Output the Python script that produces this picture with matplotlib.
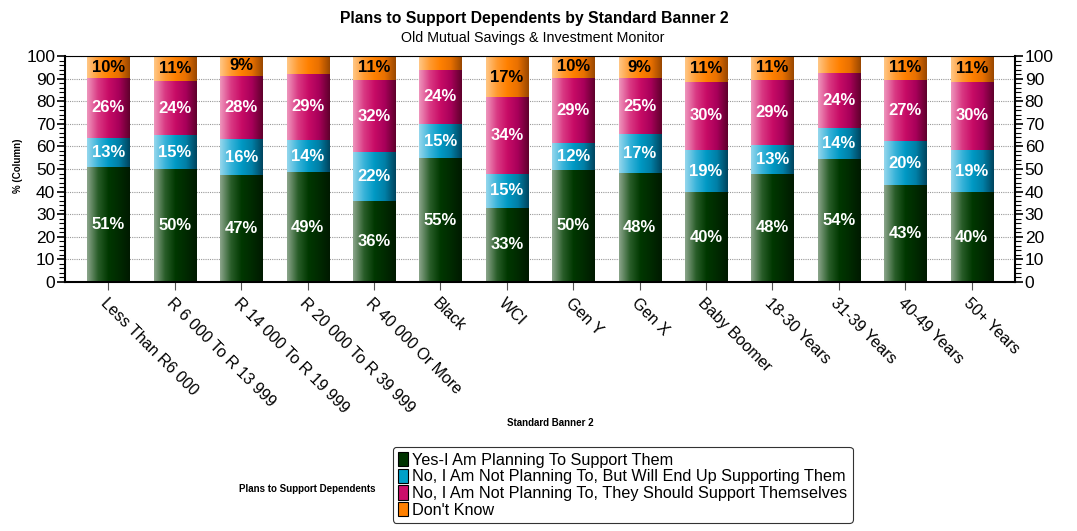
import matplotlib
matplotlib.use("Agg")
import matplotlib.pyplot as plt
import numpy as np
from matplotlib.colors import LinearSegmentedColormap
from matplotlib.patches import Patch
from matplotlib.ticker import MultipleLocator

### Data

categories = ["Less Than R6 000", "R 6 000 To R 13 999", "R 14 000 To R 19 999",
              "R 20 000 To R 39 999", "R 40 000 Or More", "Black", "WCI", "Gen Y",
              "Gen X", "Baby Boomer", "18-30 Years", "31-39 Years", "40-49 Years",
              "50+ Years"]

series_names = ["Yes-I Am Planning To Support Them",
                "No, I Am Not Planning To, But Will End Up Supporting Them",
                "No, I Am Not Planning To, They Should Support Themselves",
                "Don't Know"]

yes_support = [50.8, 49.9, 47.3, 48.6, 35.7, 54.8, 32.8, 49.6, 48.2, 39.7, 47.9, 54.4, 42.8, 39.7]
will_end_up = [13.0, 15.1, 15.9, 14.2, 21.8, 15.1, 15.1, 11.8, 17.2, 18.6, 12.7, 13.6, 19.5, 18.6]
should_self = [26.4, 23.9, 28.1, 29.4, 31.9, 24.0, 33.9, 29.0, 24.9, 30.4, 28.8, 24.4, 27.1, 30.4]
dont_know = [9.8, 11.1, 8.7, 7.8, 10.6, 6.1, 17.4, 9.6, 9.4, 11.3, 10.6, 7.6, 10.6, 11.3]

# orange segments that carry no label in the original
dont_know_labelled = [True, True, True, False, True, False, True, True, True, True, True, False, True, True]

### Styles

plt.rcParams["font.family"] = ["Liberation Sans", "DejaVu Sans"]

gradients = [
    ["#8aa48a", "#2a5e2a", "#003800", "#002a00", "#001a00"],
    ["#94d6ec", "#3ab4da", "#0099c4", "#007fa6", "#00455f"],
    ["#ee94bc", "#da3a84", "#c80c66", "#a8005a", "#60002c"],
    ["#ffc684", "#ff9a30", "#ff8000", "#e87000", "#9a4800"],
]
base_colors = ["#003300", "#00a0c8", "#cc0f6a", "#ff8000"]
label_colors = ["white", "white", "white", "black"]

fig = plt.figure(figsize=(10.77, 5.31), dpi=100)
ax = fig.add_axes([65 / 1077, 1 - 282 / 531, 950 / 1077, 226 / 531])

x = np.arange(len(categories))
width = 0.633
series = [yes_support, will_end_up, should_self, dont_know]

bottom = np.zeros(len(categories))
for s, vals in enumerate(series):
    cmap = LinearSegmentedColormap.from_list(f"g{s}", gradients[s])
    grad = np.linspace(0, 1, 64).reshape(1, -1)
    for i, v in enumerate(vals):
        ax.imshow(grad, cmap=cmap, aspect="auto", interpolation="bilinear",
                  extent=(x[i] - width / 2, x[i] + width / 2, bottom[i], bottom[i] + v),
                  zorder=2)
        show = True if s < 3 else dont_know_labelled[i]
        if show:
            ax.text(x[i], bottom[i] + v / 2, f"{round(v):.0f}%", ha="center", va="center",
                    color=label_colors[s], fontsize=12, fontweight="bold", zorder=4)
    bottom += np.array(vals)

ax.set_xlim(-0.652, len(categories) - 1 + 0.652)
ax.set_ylim(0, 100)
ax.set_aspect("auto")

ax.yaxis.set_major_locator(MultipleLocator(10))
ax.yaxis.set_minor_locator(MultipleLocator(2))
ax.tick_params(axis="y", which="both", left=True, right=True, labelleft=True,
               labelright=True, labelsize=12.5, pad=1, direction="out")
ax.tick_params(axis="y", which="major", length=6, width=1.2)
ax.tick_params(axis="y", which="minor", length=4, width=0.8)
ax.grid(axis="y", which="major", linestyle=(0, (1, 1)), color="#999999", linewidth=0.8, zorder=0)
ax.set_axisbelow(True)

ax.set_xticks(x)
ax.set_xticklabels(categories, rotation=-45, ha="left", va="top",
                   rotation_mode="anchor", fontsize=11.5)
ax.tick_params(axis="x", length=6, color="#555555", pad=4)

for sp in ["left", "right", "bottom"]:
    ax.spines[sp].set_linewidth(1.5)
ax.spines["top"].set_linewidth(0.8)

fig.text(18 / 1077, 1 - 166 / 531, "% (Column)", rotation=90,
         ha="center", va="center", fontsize=7, fontweight="bold")
fig.text(534 / 1077, 1 - 18 / 531, "Plans to Support Dependents by Standard Banner 2",
         ha="center", va="center", fontsize=11.3, fontweight="bold")
fig.text(533 / 1077, 1 - 38 / 531, "Old Mutual Savings & Investment Monitor",
         ha="center", va="center", fontsize=10.3)
fig.text(550 / 1077, 1 - 423 / 531, "Standard Banner 2",
         ha="center", va="center", fontsize=7, fontweight="bold")
fig.text(307 / 1077, 1 - 489 / 531, "Plans to Support Dependents",
         ha="center", va="center", fontsize=7, fontweight="bold")

handles = [Patch(facecolor=c, edgecolor="black", linewidth=0.8) for c in base_colors]
leg = fig.legend(handles, series_names, loc="upper left",
                 bbox_to_anchor=(393 / 1077, 1 - 447 / 531), fontsize=11.7,
                 frameon=True, fancybox=True, handlelength=0.6, handleheight=1.0,
                 handletextpad=0.3, labelspacing=0.05, borderpad=0.3, borderaxespad=0)
leg.get_frame().set_edgecolor("black")
leg.get_frame().set_linewidth(0.8)

fig.savefig("out.png", dpi=100)
